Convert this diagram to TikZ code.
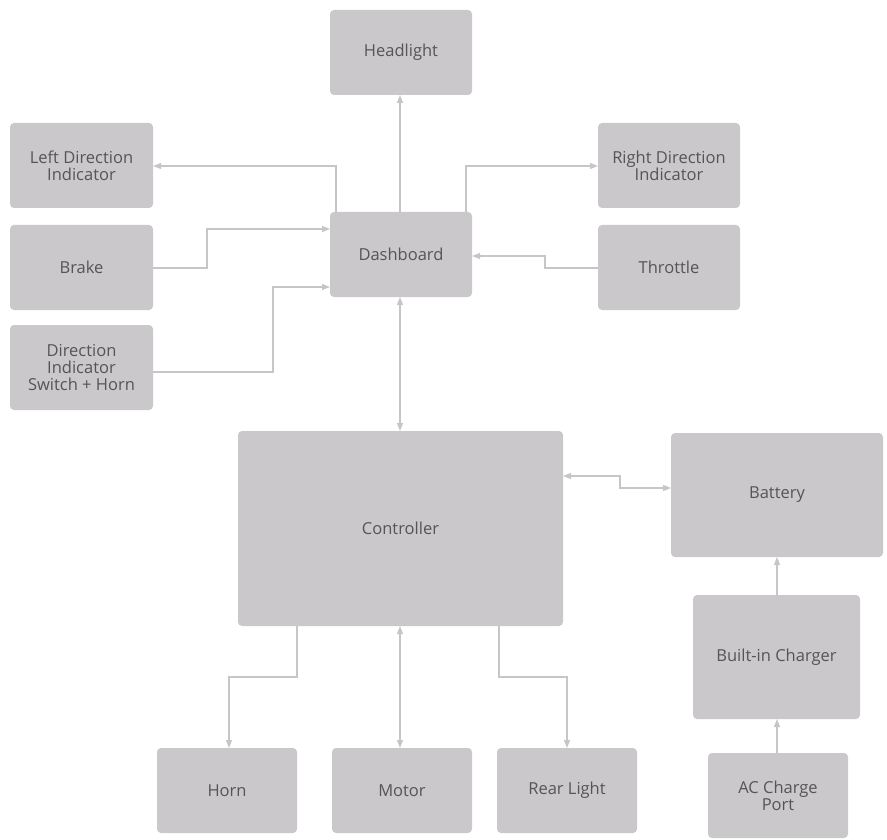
\documentclass[tikz,border=0pt]{standalone}
\usepackage{fontspec}
\setmainfont{Open Sans}
\usetikzlibrary{arrows.meta}
\definecolor{boxc}{HTML}{CAC8CA}
\definecolor{linec}{HTML}{C6C6C6}
\definecolor{txt}{HTML}{555555}
\begin{document}
\begin{tikzpicture}[x=1pt,y=-1pt,
 box/.style={fill=boxc,rounded corners=4pt,draw=none,text=txt,align=center,font=\fontsize{16.5}{17}\selectfont},
 ln/.style={draw=linec,line width=1.3pt,-{Triangle[length=8pt,width=6pt]}},
 bi/.style={draw=linec,line width=1.3pt,{Triangle[length=8pt,width=6pt]}-{Triangle[length=8pt,width=6pt]}}]
\useasboundingbox (0,0) rectangle (887,840);
\newcommand\bx[6]{\path[box] (#2,#3) rectangle (#4,#5); \node[box,fill=none,inner sep=0] (#1) at ({(#2+#4)/2},{(#3+#5)/2}) {#6};
 \coordinate (#1-nw) at (#2,#3); \coordinate (#1-se) at (#4,#5);}
\bx{head}{330}{10}{472}{95}{Headlight}
\bx{ldi}{10}{123}{153}{208}{Left Direction\\Indicator}
\bx{rdi}{598}{123}{740}{208}{Right Direction\\Indicator}
\bx{brake}{10}{225}{153}{310}{Brake}
\bx{dash}{330}{212}{472}{297}{Dashboard}
\bx{thr}{598}{225}{740}{310}{Throttle}
\bx{dis}{10}{325}{153}{410}{Direction\\Indicator\\Switch + Horn}
\bx{ctrl}{238}{431}{563}{626}{Controller}
\bx{bat}{671}{433}{883}{557}{Battery}
\bx{chg}{693}{595}{860}{719}{Built-in Charger}
\bx{ac}{708}{753}{848}{838}{AC Charge\\Port}
\bx{horn}{157}{748}{297}{833}{Horn}
\bx{mot}{332}{748}{472}{833}{Motor}
\bx{rear}{497}{748}{637}{833}{Rear Light}
\draw[ln] (400,212) -- (400,95);
\draw[ln] (336,212) |- (153,166);
\draw[ln] (466,212) |- (598,166);
\draw[ln] (153,268) -- (207,268) -- (207,229) -- (330,229);
\draw[ln] (153,372) -- (273,372) -- (273,287) -- (330,287);
\draw[ln] (598,268) -- (545,268) -- (545,256) -- (472,256);
\draw[bi] (400,297) -- (400,431);
\draw[bi] (563,476) -- (620,476) -- (620,488) -- (671,488);
\draw[ln] (297,626) -- (297,677) -- (229,677) -- (229,748);
\draw[bi] (400,626) -- (400,748);
\draw[ln] (499,626) -- (499,677) -- (567,677) -- (567,748);
\draw[ln] (777,595) -- (777,557);
\draw[ln] (777,753) -- (777,719);
\end{tikzpicture}
\end{document}
